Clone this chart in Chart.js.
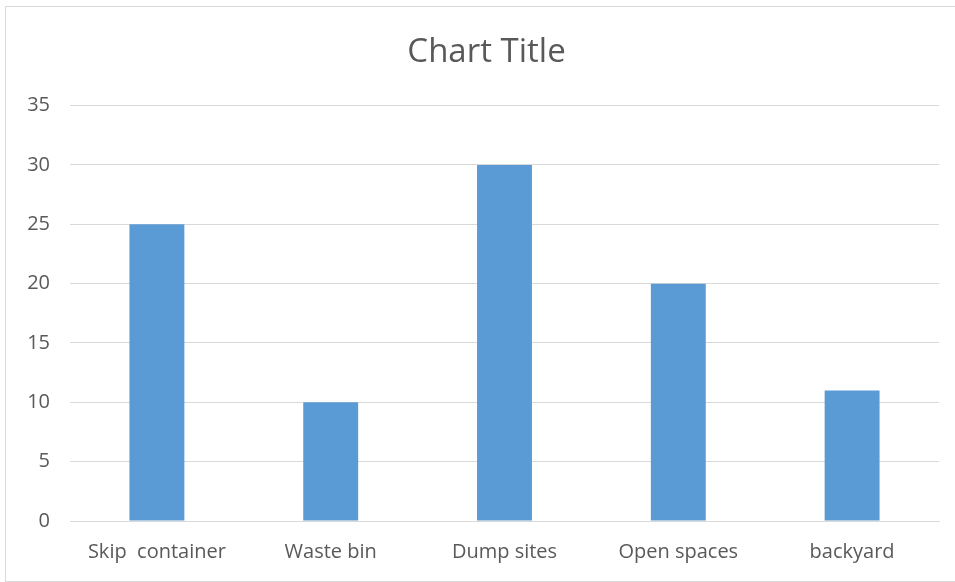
<!DOCTYPE html>
<html>
<head>
<meta charset="utf-8">
<script src="https://cdn.jsdelivr.net/npm/chart.js@4/dist/chart.umd.min.js"></script>
<style>
  body { margin: 0; background: #fff; }
  #wrap { position: relative; width: 955px; height: 582px; overflow: hidden; }
  #frame { position: absolute; left: 5px; top: 6px; width: 1000px; height: 574px;
           border: 1px solid #d9d9d9; pointer-events: none; }
</style>
</head>
<body>
<div id="wrap">
  <canvas id="wasteChart" width="955" height="582"></canvas>
  <div id="frame"></div>
</div>
<script>
var places = ['Skip  container', 'Waste bin', 'Dump sites', 'Open spaces', 'backyard'];
var counts = [25, 10, 30, 20, 11];
var yMax = 35;
var yStep = 5;

var textColor = '#595959';
var gridColor = '#d9d9d9';

const ctx = document.getElementById('wasteChart').getContext('2d');

const chart = new Chart(ctx, {
    type: 'bar',
    data: {
        labels: places,
        datasets: [{
            label: 'Series 1',
            data: counts,
            backgroundColor: '#5b9bd5',
            borderWidth: 0,
            categoryPercentage: 1,
            barPercentage: 0.316
        }]
    },
    options: {
        responsive: false,
        animation: false,
        layout: {
            // negative right padding widens the title box so it sits a bit right of centre;
            // the empty right axis takes that room back from the plot
            padding: { left: 0, right: -18, top: 0, bottom: 0 }
        },
        plugins: {
            legend: { display: false },
            tooltip: { enabled: false },
            title: {
                display: true,
                text: 'Chart Title',
                color: textColor,
                font: { family: 'Open Sans', size: 33, weight: 'normal' },
                padding: { top: 33, bottom: 33 }
            }
        },
        scales: {
            x: {
                grid: { display: false, drawTicks: false },
                border: { display: true, color: gridColor, width: 1 },
                ticks: {
                    color: textColor,
                    font: { family: 'Open Sans', size: 20 },
                    padding: 19,
                    maxRotation: 0
                },
                afterFit: function(scale) { scale.height = 61; }
            },
            y: {
                min: 0,
                max: yMax,
                grid: { color: gridColor, drawTicks: false },
                border: { display: false },
                ticks: {
                    stepSize: yStep,
                    color: textColor,
                    font: { family: 'Open Sans', size: 20 },
                    padding: 20
                },
                afterFit: function(scale) { scale.width = 70; }
            },
            spacer: {
                type: 'linear',
                position: 'right',
                grid: { display: false, drawTicks: false },
                border: { display: false },
                ticks: { display: false },
                afterFit: function(scale) { scale.width = 34; }
            }
        }
    }
});
</script>
</body>
</html>
